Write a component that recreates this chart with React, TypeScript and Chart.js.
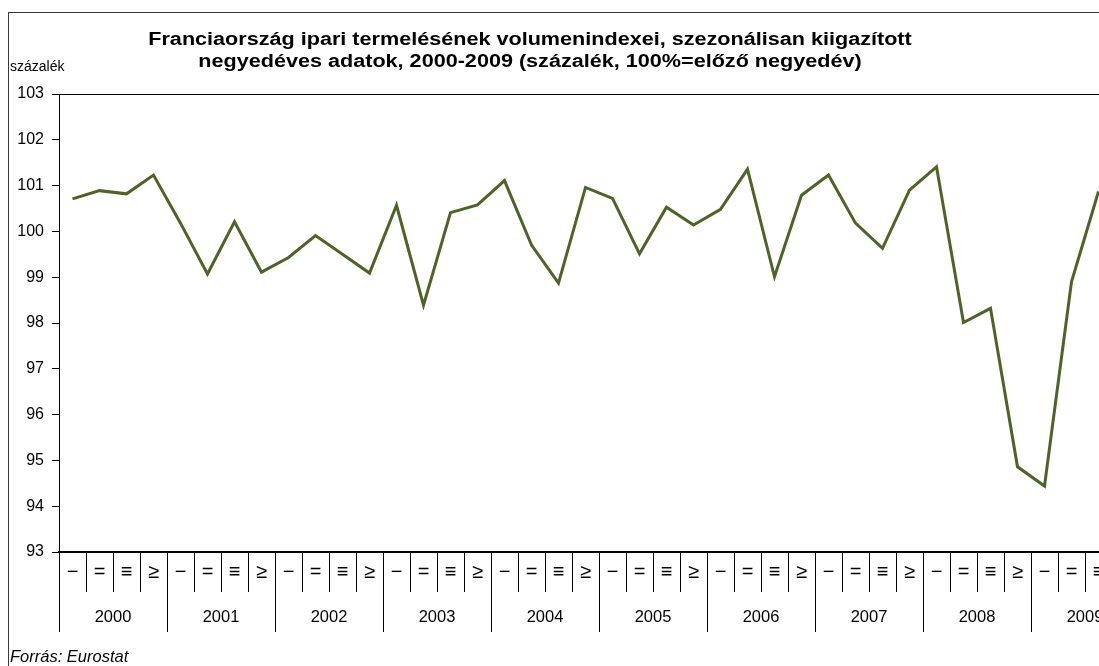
import React, { useEffect, useRef } from 'react';
import { Chart, registerables } from 'chart.js';

Chart.register(...registerables);

const titleLines = [
  'Franciaország ipari termelésének volumenindexei, szezonálisan kiigazított',
  'negyedéves adatok, 2000-2009 (százalék, 100%=előző negyedév)',
];
const yAxisLabel = 'százalék';
const sourceNote = 'Forrás: Eurostat';

const years = ['2000', '2001', '2002', '2003', '2004', '2005', '2006', '2007', '2008', '2009'];
const quarterGlyphs = ['−', '=', '≡', '≥'];

const v2000 = [100.71, 100.89, 100.82, 101.23];
const v2001 = [100.18, 99.07, 100.21, 99.11];
const v2002 = [99.43, 99.91, 99.5, 99.09];
const v2003 = [100.57, 98.39, 100.41, 100.58];
const v2004 = [101.11, 99.7, 98.87, 100.96];
const v2005 = [100.72, 99.51, 100.53, 100.14];
const v2006 = [100.48, 101.36, 99.01, 100.79];
const v2007 = [101.23, 100.18, 99.63, 100.9];
const v2008 = [101.41, 98.01, 98.32, 94.86];
const v2009 = [94.44, 98.9, 100.87, null];

const yMin = 93;
const yMax = 103;
const yStep = 1;

const FONT = '"Liberation Sans", Arial, Helvetica, sans-serif';

export default function App() {
  const canvasRef = useRef<HTMLCanvasElement | null>(null);

  useEffect(() => {
    if (!canvasRef.current) return;
    const quarterLabels = years.flatMap(() => quarterGlyphs);
    const values = [
      ...v2000, ...v2001, ...v2002, ...v2003, ...v2004,
      ...v2005, ...v2006, ...v2007, ...v2008, ...v2009,
    ];

    const overlay = {
      id: 'overlay',
      afterDraw(chart: any) {
        const ctx = chart.ctx;
        const a = chart.chartArea;
        ctx.save();
        ctx.strokeStyle = '#000';
        ctx.lineWidth = 1;
        ctx.beginPath();
        ctx.moveTo(a.left, a.top + 0.5);
        ctx.lineTo(a.right, a.top + 0.5);
        ctx.lineTo(a.right - 0.5, a.bottom);
        ctx.stroke();

        ctx.fillStyle = '#000';
        ctx.textBaseline = 'middle';
        ctx.textAlign = 'center';
        ctx.font = `bold 18px ${FONT}`;
        ctx.save();
        ctx.translate(521, 0);
        ctx.scale(1.2, 1);
        ctx.fillText(titleLines[0], 0, 27);
        ctx.fillText(titleLines[1], 0, 49);
        ctx.restore();

        ctx.textAlign = 'left';
        ctx.font = `14px ${FONT}`;
        ctx.fillText(yAxisLabel, 1, 54);

        ctx.font = `italic 16.5px ${FONT}`;
        ctx.fillText(sourceNote, 1, 644);
        ctx.restore();
      },
    };

    const chart = new Chart(canvasRef.current, {
      type: 'line',
      data: {
        labels: quarterLabels,
        datasets: [
          {
            data: values,
            borderColor: '#4F6228',
            backgroundColor: '#4F6228',
            borderWidth: 3,
            pointRadius: 0,
            tension: 0,
            spanGaps: false,
            xAxisID: 'x',
            yAxisID: 'y',
          },
        ],
      },
      options: {
        responsive: false,
        animation: false,
        devicePixelRatio: 1,
        layout: { padding: { left: 0, right: 30, top: 81, bottom: 61 } },
        plugins: {
          legend: { display: false },
          title: { display: false },
          tooltip: { enabled: false },
        },
        scales: {
          x: {
            type: 'category',
            position: 'bottom',
            offset: true,
            grid: {
              offset: true,
              drawOnChartArea: false,
              drawTicks: true,
              tickLength: 40,
              color: '#000',
              lineWidth: 1,
            },
            border: { display: true, color: '#000', width: 2 },
            ticks: {
              autoSkip: false,
              maxRotation: 0,
              minRotation: 0,
              padding: -32,
              color: '#000',
              font: { family: FONT, size: 20 },
            },
            afterFit(scale: any) {
              scale.height = 40;
            },
          },
          x2: {
            type: 'category',
            position: 'bottom',
            labels: years,
            offset: true,
            grid: {
              offset: true,
              drawOnChartArea: false,
              drawTicks: true,
              tickLength: 40,
              color: '#000',
              lineWidth: 1,
            },
            border: { display: false },
            ticks: {
              autoSkip: false,
              maxRotation: 0,
              minRotation: 0,
              padding: -24,
              color: '#000',
              font: { family: FONT, size: 16.5 },
            },
            afterFit(scale: any) {
              scale.height = 40;
            },
          },
          y: {
            type: 'linear',
            position: 'left',
            min: yMin,
            max: yMax,
            grid: {
              drawOnChartArea: false,
              drawTicks: true,
              tickLength: 7,
              color: '#000',
            },
            border: { display: true, color: '#000', width: 1 },
            ticks: {
              stepSize: yStep,
              padding: 8,
              color: '#000',
              font: { family: FONT, size: 16 },
            },
            afterFit(scale: any) {
              scale.width = 50;
            },
          },
        },
      },
      plugins: [overlay],
    } as any);

    return () => {
      chart.destroy();
    };
  }, []);

  return (
    <div
      style={{
        position: 'fixed',
        left: 0,
        top: 0,
        width: '100vw',
        height: '100vh',
        overflow: 'hidden',
        background: '#fff',
      }}
    >
      <div
        style={{
          position: 'absolute',
          left: 8,
          top: 12,
          border: '1px solid #3a3a3a',
          background: '#fff',
        }}
      >
        <canvas ref={canvasRef} width={1160} height={680} style={{ display: 'block' }} />
      </div>
    </div>
  );
}
